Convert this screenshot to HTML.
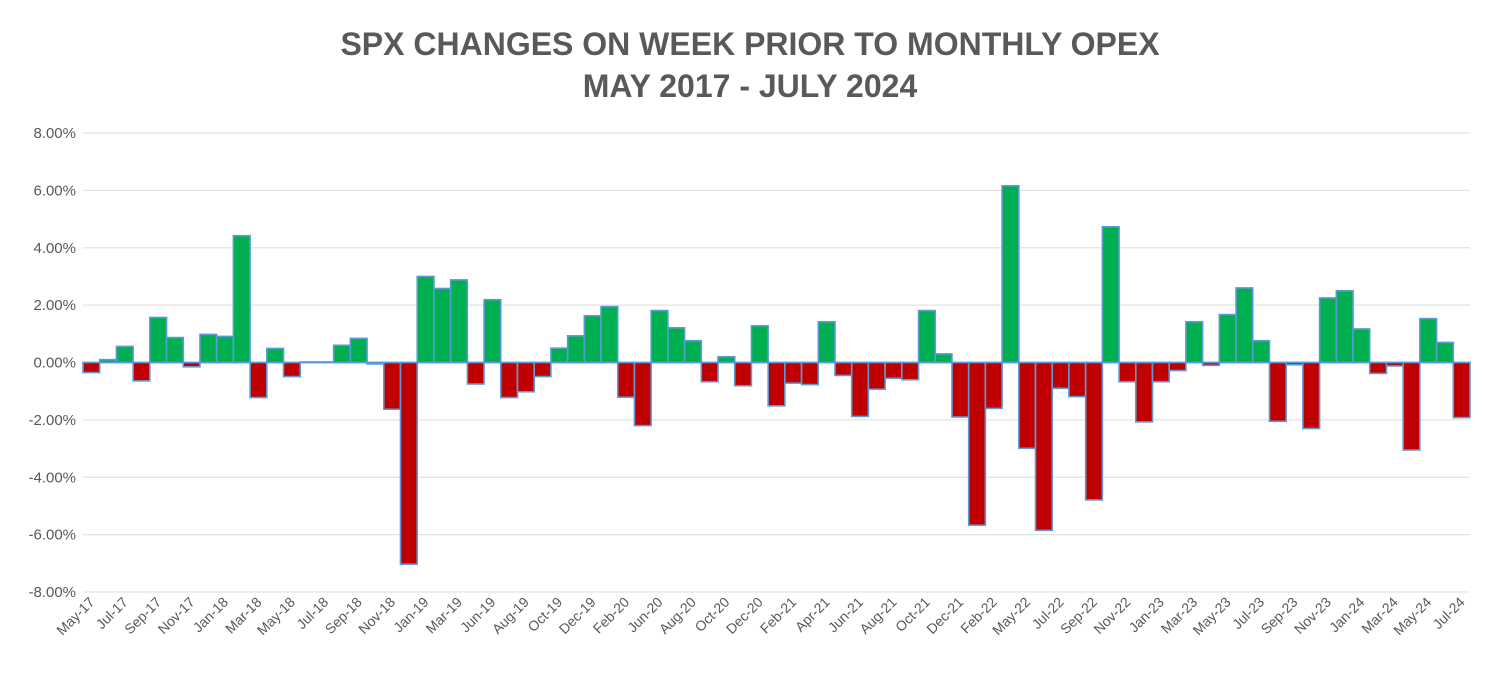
<!DOCTYPE html>
<html><head><meta charset="utf-8"><style>
body{margin:0;background:#fff;}
svg{display:block;font-family:"Liberation Sans",sans-serif;}
</style></head><body>
<svg id="chart" width="1500" height="675" viewBox="0 0 1500 675" xmlns="http://www.w3.org/2000/svg">
<text x="750" y="55" text-anchor="middle" font-size="32" font-weight="bold" fill="#595959">SPX CHANGES ON WEEK PRIOR TO MONTHLY OPEX</text>
<text x="750" y="97" text-anchor="middle" font-size="32" font-weight="bold" fill="#595959">MAY 2017 - JULY 2024</text>
<g id="grid"></g>
<g id="yaxis"></g>
<g id="bars"></g>
<g id="xaxis"></g>
</svg>
<script>
const categories = ["May-17","Jun-17","Jul-17","Aug-17","Sep-17","Oct-17","Nov-17","Dec-17","Jan-18","Feb-18","Mar-18","Apr-18","May-18","Jun-18","Jul-18","Aug-18","Sep-18","Oct-18","Nov-18","Dec-18","Jan-19","Feb-19","Mar-19","May-19","Jun-19","Jul-19","Aug-19","Sep-19","Oct-19","Nov-19","Dec-19","Jan-20","Feb-20","May-20","Jun-20","Jul-20","Aug-20","Sep-20","Oct-20","Nov-20","Dec-20","Jan-21","Feb-21","Mar-21","Apr-21","May-21","Jun-21","Jul-21","Aug-21","Sep-21","Oct-21","Nov-21","Dec-21","Jan-22","Feb-22","Apr-22","May-22","Jun-22","Jul-22","Aug-22","Sep-22","Oct-22","Nov-22","Dec-22","Jan-23","Feb-23","Mar-23","Apr-23","May-23","Jun-23","Jul-23","Aug-23","Sep-23","Oct-23","Nov-23","Dec-23","Jan-24","Feb-24","Mar-24","Apr-24","May-24","Jun-24","Jul-24"];
const values = [-0.35,0.1,0.56,-0.64,1.57,0.87,-0.15,0.98,0.91,4.42,-1.22,0.49,-0.49,0.02,0.02,0.6,0.84,-0.05,-1.63,-7.03,3.0,2.58,2.88,-0.75,2.19,-1.22,-1.02,-0.49,0.5,0.93,1.63,1.95,-1.21,-2.2,1.81,1.21,0.76,-0.67,0.2,-0.81,1.28,-1.51,-0.72,-0.77,1.42,-0.45,-1.88,-0.93,-0.55,-0.6,1.81,0.3,-1.9,-5.67,-1.6,6.16,-2.99,-5.85,-0.9,-1.19,-4.79,4.73,-0.67,-2.07,-0.67,-0.28,1.42,-0.1,1.67,2.6,0.76,-2.05,-0.08,-2.3,2.25,2.5,1.17,-0.38,-0.12,-3.05,1.53,0.7,-1.92];
const yTicks = [8,6,4,2,0,-2,-4,-6,-8];
const NS="http://www.w3.org/2000/svg";
const pLeft=83, pRight=1470, pTop=133, pBottom=592, ymax=8, ymin=-8;
const bw=(pRight-pLeft)/categories.length;
function yScale(v){return pTop+(ymax-v)/(ymax-ymin)*(pBottom-pTop);}
function xScale(i){return pLeft+i*bw;}
function mk(tag,attrs,parent){const e=document.createElementNS(NS,tag);for(const k in attrs)e.setAttribute(k,attrs[k]);parent.appendChild(e);return e;}
const grid=document.getElementById('grid'), yaxis=document.getElementById('yaxis'), bars=document.getElementById('bars'), xaxis=document.getElementById('xaxis');
yTicks.forEach(t=>{
  const l=mk('line',{x1:pLeft,x2:pRight,y1:yScale(t),y2:yScale(t),stroke:t===0?'#bfbfbf':'#e3e3e3','stroke-width':t===0?2:1.3},grid);
  
  
  const tx=mk('text',{x:76,y:yScale(t)+5,'text-anchor':'end','font-size':15,fill:'#595959'},yaxis);
  tx.textContent=t.toFixed(2)+'%';
  
  
});
values.forEach((v,i)=>{
  const y0=yScale(0), y1=yScale(v);
  const r=mk('rect',{x:xScale(i),y:Math.min(y0,y1),width:bw,height:Math.max(Math.abs(y1-y0),0.5),fill:v>=0?'#00B050':'#C00000',stroke:'#5B9BD5','stroke-width':1.6},bars);
  
  
});
categories.forEach((c,i)=>{
  if(i%2!==0)return;
  const cx=xScale(i)+bw/2+4, cy=603;
  const t=mk('text',{x:cx,y:cy,'text-anchor':'end','font-size':14,fill:'#595959',transform:'rotate(-45 '+cx+' '+cy+')'},xaxis);
  t.textContent=c;
  
  
});
</script>
</body></html>
